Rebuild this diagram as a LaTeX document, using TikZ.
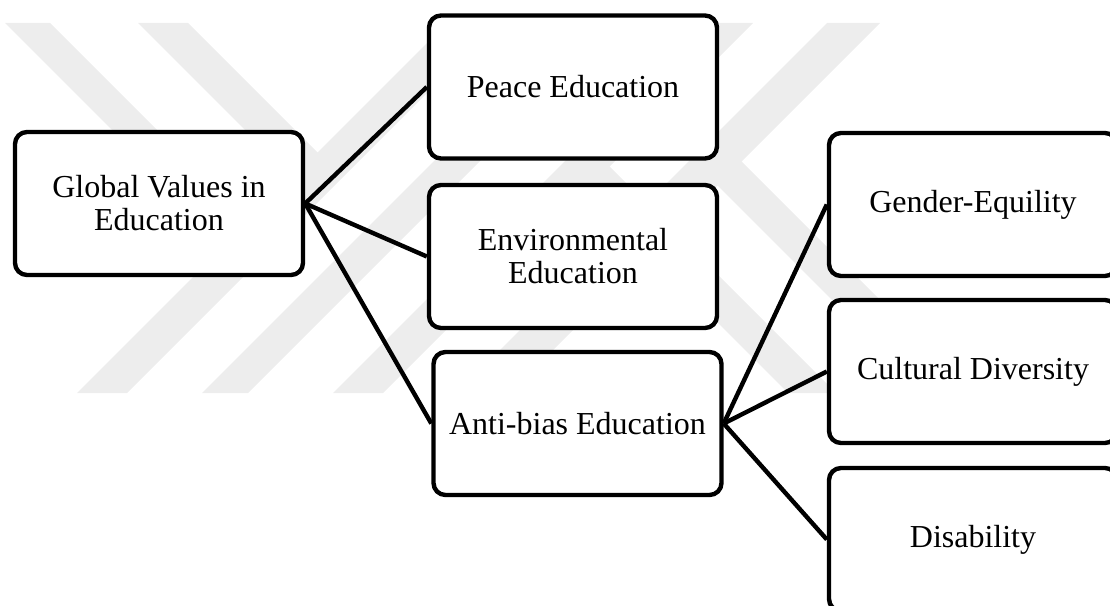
\documentclass[tikz,border=0pt]{standalone}
\usepackage{fontspec}
\setmainfont{Liberation Serif}
\begin{document}
\begin{tikzpicture}[x=0.75pt,y=-0.75pt,
  box/.style={draw=black, fill=white, line width=3.3pt, rounded corners=9pt,
    minimum width=216pt, minimum height=107.25pt, align=center,
    font=\fontsize{24}{24.8}\selectfont, inner sep=2pt},
  link/.style={draw=black, line width=3.3pt},
  wm/.style={fill=black!7, draw=none}]
\useasboundingbox (0,0) rectangle (1110,606);
% faint watermark
\fill[wm] (5,23) -- (50,23) -- (261,234) -- (238.5,256.5) -- cycle;
\fill[wm] (138,23) -- (188,23) -- (330,165) -- (305,190) -- cycle;
\fill[wm] (77,393) -- (127,393) -- (497,23) -- (447,23) -- cycle;
\fill[wm] (202,393) -- (248,393) -- (618,23) -- (572,23) -- cycle;
\fill[wm] (333,393) -- (383,393) -- (753,23) -- (703,23) -- cycle;
\fill[wm] (457,393) -- (510,393) -- (880,23) -- (827,23) -- cycle;
\fill[wm] (728,148) -- (973,393) -- (925,393) -- (704,172) -- cycle;
\fill[wm] (597,154) -- (836,393) -- (788,393) -- (573,178) -- cycle;
% boxes
\node[box] (g) at (159,203.5) {Global Values in\\Education};
\node[box] (p) at (573,87) {Peace Education};
\node[box] (e) at (573,256.5) {Environmental\\Education};
\node[box] (a) at (577.5,423.5) {Anti-bias Education};
\node[box] (ge) at (973,204.5) {Gender-Equility};
\node[box] (cd) at (973,371.5) {Cultural Diversity};
\node[box] (di) at (973,539.5) {Disability};
% connectors
\draw[link] (g.east) -- (p.west);
\draw[link] (g.east) -- (e.west);
\draw[link] (g.east) -- (a.west);
\draw[link] (a.east) -- (ge.west);
\draw[link] (a.east) -- (cd.west);
\draw[link] (a.east) -- (di.west);
\end{tikzpicture}
\end{document}
